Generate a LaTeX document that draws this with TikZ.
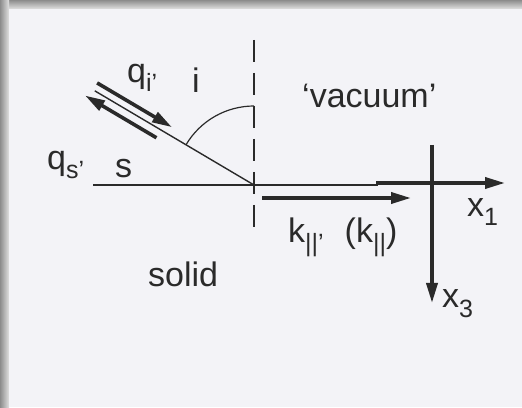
\documentclass[tikz,border=0pt]{standalone}
\usepackage{fontspec}
\setmainfont{Liberation Sans}
\usetikzlibrary{arrows.meta,calc}
\definecolor{ink}{HTML}{2A2A2A}
\definecolor{paper}{HTML}{F3F3F7}
\newcommand\lo[1]{\raisebox{-9pt}{\fontsize{25}{25}\selectfont #1}}
\tikzset{
  thinline/.style={ink, line width=1.4pt},
  vec/.style={ink, line width=3.6pt, -{Triangle[length=20pt,width=11pt]}},
  dashline/.style={ink, line width=1.4pt, dash pattern=on 22pt off 11pt},
}
\begin{document}
\begin{tikzpicture}[x=1pt,y=1pt,font=\fontsize{34}{40}\selectfont,every node/.style={text=ink,inner sep=0pt}]
    % frame
    \fill[black!30] (0,0) rectangle (522,407);
    \shade[top color=black!45, bottom color=black!12] (0,398) rectangle (522,407);
    \shade[left color=black!45, right color=black!12] (0,0) rectangle (9,407);
    \fill[paper] (9,0) rectangle (522,398);
    \useasboundingbox (0,0) rectangle (522,407);
    % points
    \coordinate (O) at (254,222);
    \coordinate (ntop) at (254,367);
    \coordinate (nbot) at (254,177);
    \coordinate (sl) at (93,222);
    \coordinate (sr) at (378,222);
    \coordinate (x1s) at (376,224);
    \coordinate (x1e) at (505,224);
    \coordinate (x3s) at (432,262);
    \coordinate (x3e) at (432,104);
    \coordinate (ks) at (262,209);
    \coordinate (ke) at (411,209);
    \coordinate (inc) at ($(O)+(149.4:185)$);
    \coordinate (qis) at ($(O)+(149.4:187)+(59.4:8)$);
    \coordinate (qie) at ($(O)+(149.4:100)+(59.4:8)$);
    \coordinate (qss) at ($(O)+(149.4:108)+(239.4:9)$);
    \coordinate (qse) at ($(O)+(149.4:191)+(239.4:9)$);
    % lines
    \draw[dashline] (ntop) -- (nbot);
    \draw[thinline] (sl) -- (sr);
    \draw[thinline] (O) -- (inc);
    \draw[ink, line width=1.2pt] ($(O)+(149.4:79)$) arc[start angle=149.4, end angle=90, radius=79];
    \draw[vec] (x1s) -- (x1e);
    \draw[vec] (x3s) -- (x3e);
    \draw[vec] (ks) -- (ke);
    \draw[vec] (qis) -- (qie);
    \draw[vec] (qss) -- (qse);
    % labels
    \node[anchor=base west] (qi) at (127,324) {q\lo{i’}};
    \node[anchor=base west] (ang) at (192,314) {i};
    \node[anchor=base west] (vac) at (302,299) {‘vacuum’};
    \node[anchor=base west] (qs) at (47,237) {q\lo{s’}};
    \node[anchor=base west] (s) at (115,229) {s};
    \node[anchor=base west] (sol) at (148,120) {solid};
    \node[anchor=base west] (k) at (288,164) {k\lo{||’}\hspace{21pt}(k\lo{||})};
    \node[anchor=base west] (xa) at (467,190) {x\lo{1}};
    \node[anchor=base west] (xb) at (442,99) {x\lo{3}};
  \end{tikzpicture}
\end{document}
